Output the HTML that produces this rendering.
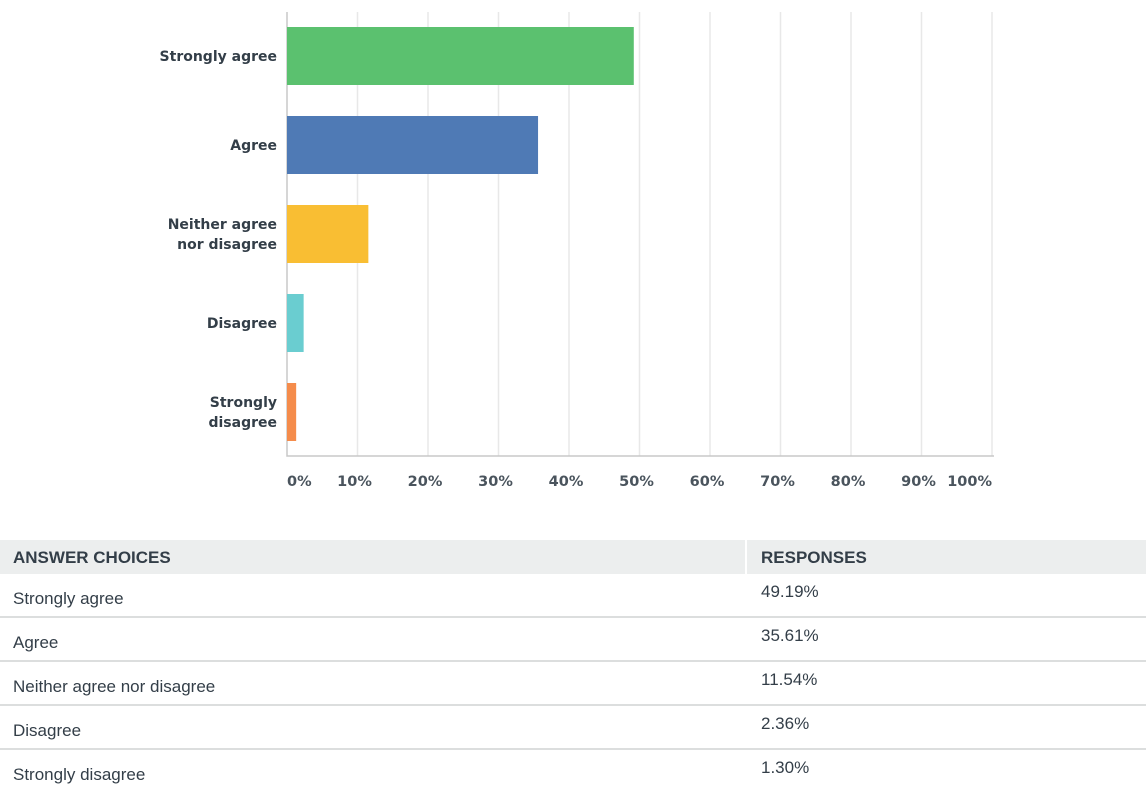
<!DOCTYPE html>
<html><head><meta charset="utf-8"><style>
body{margin:0;width:1146px;height:790px;background:#fff;font-family:"Liberation Sans",sans-serif;position:relative;overflow:hidden}
svg{position:absolute;left:0;top:0}
.tbl{position:absolute;left:0;top:540px;width:1146px}
.row{position:relative;height:42px;border-bottom:2px solid #dcdede;font-size:17px;color:#333e48}
.row.hdr{height:34px;background:#eceeee;font-weight:bold;border:none;color:#333e48}
.c1{position:absolute;left:13px}
.c2{position:absolute;left:761px}
.row .c1{top:15px}.row .c2{top:8px}
.row.hdr .c1,.row.hdr .c2{top:8px}
.hdr .sep{position:absolute;left:745px;top:0;width:2px;height:34px;background:#fff}
</style></head><body>
<svg id="chart" width="1146" height="500"></svg>
<div class="tbl">
<div class="row hdr"><span class="c1">ANSWER CHOICES</span><span class="sep"></span><span class="c2">RESPONSES</span></div>
<div class="row"><span class="c1">Strongly agree</span><span class="c2">49.19%</span></div>
<div class="row"><span class="c1">Agree</span><span class="c2">35.61%</span></div>
<div class="row"><span class="c1">Neither agree nor disagree</span><span class="c2">11.54%</span></div>
<div class="row"><span class="c1">Disagree</span><span class="c2">2.36%</span></div>
<div class="row" style="border-bottom:none"><span class="c1">Strongly disagree</span><span class="c2">1.30%</span></div>
</div>
<script>
const categories=[["Strongly agree"],["Agree"],["Neither agree","nor disagree"],["Disagree"],["Strongly","disagree"]];
const values=[49.19,35.61,11.54,2.36,1.30];
const colors=["#5bc16f","#4f7ab5","#f9be33","#6acdd0","#f58c4b"];
const ticks=[0,10,20,30,40,50,60,70,80,90,100];
const svg=document.getElementById('chart');const NS="http://www.w3.org/2000/svg";
const x0=287,x1=992,plotTop=12,plotBottom=456,band=89,barH=58;
const xs=v=>x0+(x1-x0)*v/100;
function mk(t,a){const e=document.createElementNS(NS,t);for(const k in a)e.setAttribute(k,a[k]);svg.appendChild(e);return e;}
ticks.forEach((t,i)=>{if(t>0){const g=mk('line',{x1:xs(t),x2:xs(t),y1:plotTop,y2:plotBottom,stroke:'#e8e8e8','stroke-width':1.5});

}
const anchor=t===0?'start':(t===100?'end':'middle');
const tx=t===0?x0:(t===100?992:xs(t)-3);
const l=mk('text',{x:tx,y:486,'text-anchor':anchor,'font-size':14.5,'font-weight':'bold',fill:'#4a545d','font-family':'DejaVu Sans, sans-serif'});
l.textContent=t+'%';

});
const ax=mk('path',{d:`M${x0} ${plotTop}V${plotBottom}H${x1+2}`,fill:'none',stroke:'#c8c8c8','stroke-width':1.5});


values.forEach((v,i)=>{const y=plotTop+15+i*band;
const r=mk('rect',{x:x0,y:y,width:xs(v)-x0,height:barH,fill:colors[i]});


const lines=categories[i];const cy=y+barH/2;
lines.forEach((s,j)=>{const t=mk('text',{x:277,y:cy+5+(j-(lines.length-1)/2)*20,'text-anchor':'end','font-size':14,'font-weight':'bold',fill:'#333e48','font-family':'DejaVu Sans, sans-serif'});
t.textContent=s;

});});
</script>
</body></html>
